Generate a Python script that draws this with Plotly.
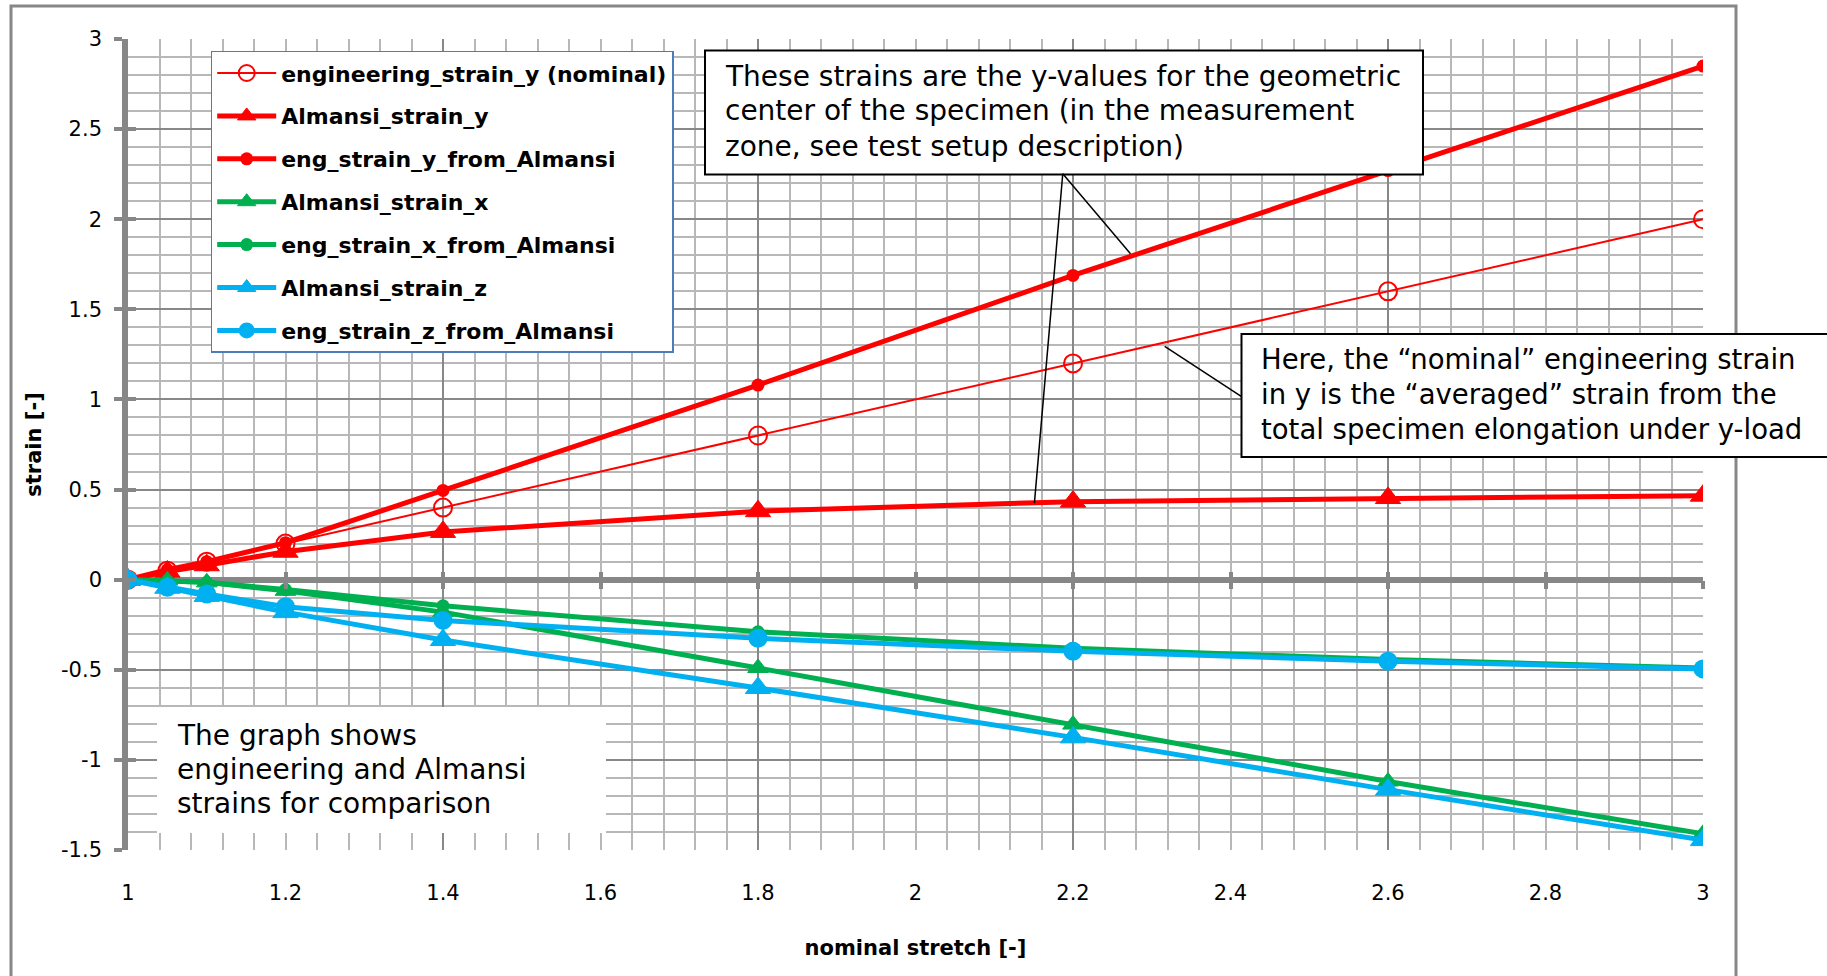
import plotly.graph_objects as go

# ---------------- data ----------------
stretch = [1.0, 1.05, 1.1, 1.2, 1.4, 1.8, 2.2, 2.6, 3.0]
engineering_strain_y_nominal = [0.0, 0.05, 0.10, 0.20, 0.40, 0.80, 1.20, 1.60, 2.00]
almansi_strain_y = [0.0, 0.045, 0.08, 0.155, 0.265, 0.38, 0.433, 0.453, 0.466]
eng_strain_y_from_almansi = [0.0, 0.055, 0.10, 0.205, 0.495, 1.08, 1.688, 2.27, 2.85]
almansi_strain_x = [0.0, -0.005, -0.015, -0.062, -0.18, -0.49, -0.804, -1.12, -1.41]
eng_strain_x_from_almansi = [0.0, -0.005, -0.015, -0.055, -0.145, -0.289, -0.381, -0.443, -0.49]
almansi_strain_z = [0.0, -0.045, -0.09, -0.18, -0.335, -0.601, -0.875, -1.165, -1.445]
eng_strain_z_from_almansi = [0.0, -0.042, -0.08, -0.15, -0.226, -0.325, -0.397, -0.452, -0.495]

x_tick_vals = [1.0, 1.2, 1.4, 1.6, 1.8, 2.0, 2.2, 2.4, 2.6, 2.8, 3.0]
x_tick_text = ["1", "1.2", "1.4", "1.6", "1.8", "2", "2.2", "2.4", "2.6", "2.8", "3"]
y_tick_vals = [-1.5, -1.0, -0.5, 0.0, 0.5, 1.0, 1.5, 2.0, 2.5, 3.0]
y_tick_text = ["-1.5", "-1", "-0.5", "0", "0.5", "1", "1.5", "2", "2.5", "3"]

box1_lines = ["These strains are the y-values for the geometric",
              "center of the specimen (in the measurement",
              "zone, see test setup description)"]
box2_lines = ["Here, the \u201cnominal\u201d engineering strain",
              "in y is the \u201caveraged\u201d strain from the",
              "total specimen elongation under y-load"]
box3_lines = ["The graph shows",
              "engineering and Almansi",
              "strains for comparison"]

# leader lines of the callouts (data coordinates: start on box, end on curve)
callout_y_start = (2.187, 2.252)
callout_y_ends = [(2.273, 1.808), (2.151, 0.425)]
callout_nominal = ((2.4136, 1.0166), (2.3165, 1.294))

# ---------------- layout geometry ----------------
W, H = 1827, 976
ML, MR, MT, MB = 128, 124, 39, 126
PW, PH = W - ML - MR, H - MT - MB


def px(xp):
    return (xp - ML) / PW


def py(yp):
    return (H - MB - yp) / PH


RED, GREEN, BLUE = "#FF0000", "#00B050", "#00B0F0"
GRID_MINOR, GRID_MAJOR, AXIS_GRAY = "#B8B8B8", "#888888", "#878787"
FONT = "DejaVu Sans"

fig = go.Figure()

series = [
    ("engineering_strain_y (nominal)", engineering_strain_y_nominal, RED, 2, "circle-open", 18, 2),
    ("Almansi_strain_y", almansi_strain_y, RED, 5, "triangle-up", 22, 1),
    ("eng_strain_y_from_Almansi", eng_strain_y_from_almansi, RED, 5, "circle", 13, 0),
    ("Almansi_strain_x", almansi_strain_x, GREEN, 5, "triangle-up", 18, 1),
    ("eng_strain_x_from_Almansi", eng_strain_x_from_almansi, GREEN, 5, "circle", 13, 0),
    ("Almansi_strain_z", almansi_strain_z, BLUE, 5, "triangle-up", 22, 1),
    ("eng_strain_z_from_Almansi", eng_strain_z_from_almansi, BLUE, 5, "circle", 19, 0),
]
for name, vals, col, lw, sym, ms, mlw in series:
    fig.add_trace(go.Scatter(
        x=stretch, y=vals, name=name, legendgroup=name,
        mode="lines+markers",
        line=dict(color=col, width=lw),
        marker=dict(symbol=sym, size=ms, color=col, line=dict(color=col, width=mlw)),
    ))

# empty helper traces so the overlay axes exist
for xa, ya in [("x2", "y"), ("x3", "y"), ("x4", "y"), ("x", "y2")]:
    fig.add_trace(go.Scatter(x=[None], y=[None], xaxis=xa, yaxis=ya, showlegend=False,
                             hoverinfo="skip", mode="markers"))

XR, YR = [1, 3], [-1.5, 3]
zero_pos = (0 - YR[0]) / (YR[1] - YR[0])

fig.update_layout(
    width=W, height=H,
    margin=dict(l=ML, r=MR, t=MT, b=MB, autoexpand=False),
    paper_bgcolor="white", plot_bgcolor="white",
    font=dict(family=FONT, size=21, color="black"),
    showlegend=True,
    legend=dict(
        x=px(210.7), y=py(50.7), xanchor="left", yanchor="top",
        bgcolor="white", bordercolor="#4A7EBB", borderwidth=1.5,
        font=dict(family=FONT, size=22, weight="bold", color="black"),
        itemwidth=59, tracegroupgap=11.3, traceorder="grouped",
    ),
    xaxis=dict(range=XR, tick0=1, dtick=0.4, showgrid=True, gridcolor=GRID_MAJOR, gridwidth=2,
               minor=dict(dtick=0.04, tick0=1, showgrid=True, gridcolor=GRID_MINOR, gridwidth=1.5),
               showticklabels=False, ticks="", zeroline=False, showline=False,
               layer="below traces", fixedrange=True),
    xaxis2=dict(overlaying="x", anchor="y", side="bottom", range=XR,
                tickmode="array", tickvals=x_tick_vals, ticktext=x_tick_text,
                showgrid=False, zeroline=False, showline=False, ticks="",
                ticklabelstandoff=28,
                tickfont=dict(family=FONT, size=21, color="black"),
                title=dict(text="nominal stretch [-]", standoff=36,
                           font=dict(family=FONT, size=21, weight="bold", color="black"))),
    xaxis3=dict(overlaying="x", anchor="free", position=zero_pos, range=XR,
                tickmode="array", tickvals=x_tick_vals, ticks="outside", ticklen=8, tickwidth=4,
                tickcolor=AXIS_GRAY, showticklabels=False, showgrid=False, zeroline=False,
                showline=False),
    xaxis4=dict(overlaying="x", anchor="free", position=zero_pos, range=XR,
                tickmode="array", tickvals=x_tick_vals, ticks="inside", ticklen=8, tickwidth=4,
                tickcolor=AXIS_GRAY, showticklabels=False, showgrid=False, zeroline=False,
                showline=False),
    yaxis=dict(range=YR, tick0=0, dtick=0.5, showgrid=True, gridcolor=GRID_MAJOR, gridwidth=2,
               minor=dict(dtick=0.1, tick0=0, showgrid=True, gridcolor=GRID_MINOR, gridwidth=1.5),
               zeroline=True, zerolinecolor=AXIS_GRAY, zerolinewidth=6,
               showline=True, linecolor=AXIS_GRAY, linewidth=6,
               ticks="outside", ticklen=8, tickwidth=4, tickcolor=AXIS_GRAY,
               showticklabels=False, layer="below traces", fixedrange=True),
    yaxis2=dict(overlaying="y", anchor="x", side="left", range=YR,
                tickmode="array", tickvals=y_tick_vals, ticktext=y_tick_text,
                ticks="inside", ticklen=8, tickwidth=4, tickcolor=AXIS_GRAY,
                showgrid=False, zeroline=False, showline=False,
                ticklabelstandoff=25,
                tickfont=dict(family=FONT, size=21, color="black"),
                title=dict(text="strain [-]", standoff=13,
                           font=dict(family=FONT, size=21, weight="bold", color="black"))),
)

shapes = []
# outer chart border
shapes.append(dict(type="rect", xref="paper", yref="paper",
                   x0=px(11), x1=px(1736), y0=py(6), y1=py(1010),
                   line=dict(color=AXIS_GRAY, width=3), fillcolor="rgba(0,0,0,0)", layer="below"))
# callout boxes
shapes.append(dict(type="rect", xref="paper", yref="paper",
                   x0=px(705), x1=px(1423), y0=py(50.5), y1=py(174.5),
                   line=dict(color="black", width=2), fillcolor="white", layer="above"))
shapes.append(dict(type="rect", xref="paper", yref="paper",
                   x0=px(1241.5), x1=px(1840), y0=py(334), y1=py(457),
                   line=dict(color="black", width=2), fillcolor="white", layer="above"))
shapes.append(dict(type="rect", xref="paper", yref="paper",
                   x0=px(157), x1=px(606), y0=py(707), y1=py(833),
                   line=dict(width=0), fillcolor="white", layer="above"))
# leader lines
for xe, ye in callout_y_ends:
    shapes.append(dict(type="line", xref="x", yref="y",
                       x0=callout_y_start[0], y0=callout_y_start[1], x1=xe, y1=ye,
                       line=dict(color="black", width=1.5), layer="above"))
(sx, sy), (ex, ey) = callout_nominal
shapes.append(dict(type="line", xref="x", yref="y", x0=sx, y0=sy, x1=ex, y1=ey,
                   line=dict(color="black", width=1.5), layer="above"))
fig.update_layout(shapes=shapes)

annotations = []


def add_lines(lines, left, centers, size):
    for txt, yc in zip(lines, centers):
        annotations.append(dict(text=txt, xref="paper", yref="paper", x=px(left), y=py(yc),
                                xanchor="left", yanchor="middle", showarrow=False,
                                font=dict(family=FONT, size=size, color="black")))


add_lines(box1_lines, 723, [76, 111, 146], 28)
add_lines(box2_lines, 1259, [359, 394, 429], 27.5)
add_lines(box3_lines, 175, [735, 769, 803], 28)
fig.update_layout(annotations=annotations)

fig.write_html("out.html", include_plotlyjs=True, full_html=True,
               config={"displayModeBar": False, "staticPlot": False},
               post_script="document.body.style.margin='0';document.body.style.overflow='hidden';")
